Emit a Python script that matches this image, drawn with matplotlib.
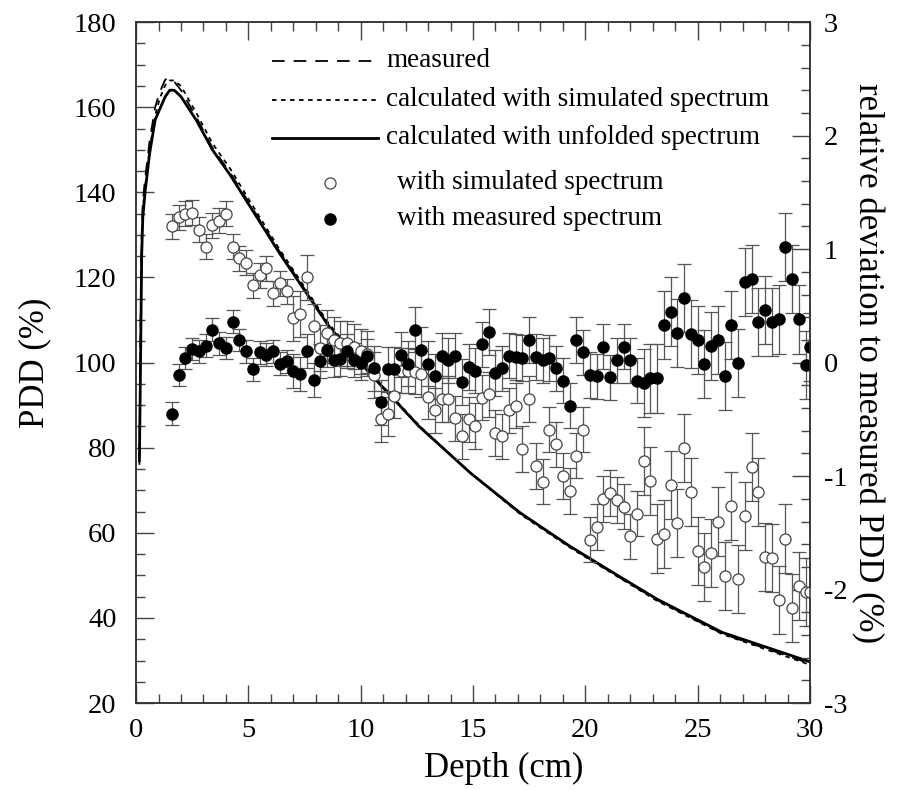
import matplotlib.pyplot as plt
from matplotlib.ticker import MultipleLocator

plt.rcParams['font.family'] = ['Liberation Serif', 'DejaVu Serif']
plt.rcParams['axes.unicode_minus'] = False

# PDD curves (left axis)
depth_curve = [0.15, 0.2, 0.25, 0.3, 0.4, 0.6, 0.85, 1.05, 1.3, 1.5, 1.7, 2.0, 2.7, 3.4,
               4.2, 5.0, 6.4, 8.6, 10.4, 12.6, 14.9, 17.1, 19.3, 21.5, 23.2, 26.1, 30.0]
pdd_measured = [78, 108, 130, 138, 143, 152, 160, 163.5, 166.5, 166.8, 166.0, 164, 157.5, 150.5,
                144.5, 137.8, 126, 108.6, 97.6, 85, 74, 64.6, 56.8, 49.6, 44.2, 36.3, 29.3]
pdd_calc_sim = [76, 104, 128, 136, 141, 150, 158, 162, 165.2, 166.3, 166.3, 165, 158.5, 151.5,
                145.5, 138.5, 126.5, 109, 97.8, 85.2, 74, 64.4, 56.6, 49.5, 44.0, 36.2, 29.0]
pdd_calc_unf = [77, 100, 125, 134, 140, 149, 157, 159.5, 162.5, 164, 164, 162.5, 156.8, 150,
                144, 137.3, 125.6, 108.4, 97.5, 85, 74, 64.7, 56.9, 49.8, 44.4, 36.6, 29.7]

# relative deviation points (right axis)
depth_pts = [1.6, 1.9, 2.2, 2.5, 2.8, 3.1, 3.4, 3.7, 4.0, 4.3,
             4.6, 4.9, 5.2, 5.5, 5.8, 6.1, 6.4, 6.7, 7.0, 7.3,
             7.6, 7.9, 8.2, 8.5, 8.8, 9.1, 9.4, 9.7, 10.0, 10.3,
             10.6, 10.9, 11.2, 11.5, 11.8, 12.1, 12.4, 12.7, 13.0, 13.3,
             13.6, 13.9, 14.2, 14.5, 14.8, 15.1, 15.4, 15.7, 16.0, 16.3,
             16.6, 16.9, 17.2, 17.5, 17.8, 18.1, 18.4, 18.7, 19.0, 19.3,
             19.6, 19.9, 20.2, 20.5, 20.8, 21.1, 21.4, 21.7, 22.0, 22.3,
             22.6, 22.9, 23.2, 23.5, 23.8, 24.1, 24.4, 24.7, 25.0, 25.3,
             25.6, 25.9, 26.2, 26.5, 26.8, 27.1, 27.4, 27.7, 28.0, 28.3,
             28.6, 28.9, 29.2, 29.5, 29.8, 30.0]
dev_measured = [-0.45, -0.11, 0.04, 0.12, 0.10, 0.15, 0.29, 0.17, 0.13, 0.36,
                0.20, 0.10, -0.06, 0.09, 0.07, 0.10, -0.01, 0.01, -0.07, -0.10,
                0.10, -0.15, 0.01, 0.11, 0.02, 0.03, 0.10, 0.02, 0.00, 0.06,
                -0.05, -0.35, -0.06, -0.06, 0.07, -0.01, 0.29, 0.11, -0.01, -0.12,
                0.06, 0.02, 0.06, -0.17, -0.04, -0.07, 0.16, 0.27, -0.09, -0.05,
                0.06, 0.05, 0.04, 0.20, 0.05, 0.02, 0.04, -0.05, -0.16, -0.38,
                0.20, 0.09, -0.11, -0.12, 0.14, -0.13, 0.02, 0.14, 0.02, -0.16,
                -0.18, -0.14, -0.14, 0.33, 0.45, 0.26, 0.57, 0.25, 0.20, -0.01,
                0.15, 0.20, -0.12, 0.33, 0.00, 0.71, 0.74, 0.36, 0.46, 0.36,
                0.38, 1.02, 0.74, 0.38, -0.02, 0.14]
dev_simulated = [1.20, 1.28, 1.31, 1.32, 1.17, 1.02, 1.21, 1.25, 1.31, 1.02,
                 0.92, 0.88, 0.68, 0.77, 0.83, 0.61, 0.70, 0.63, 0.39, 0.43,
                 0.75, 0.32, 0.13, 0.26, 0.20, 0.17, 0.17, 0.14, 0.10, 0.08,
                 -0.11, -0.50, -0.45, -0.29, -0.07, -0.07, -0.08, -0.10, -0.30, -0.42,
                 -0.32, -0.32, -0.49, -0.65, -0.50, -0.56, -0.31, -0.28, -0.62, -0.65,
                 -0.42, -0.38, -0.76, -0.32, -0.91, -1.05, -0.59, -0.72, -1.00, -1.13,
                 -0.82, -0.59, -1.56, -1.45, -1.20, -1.15, -1.21, -1.27, -1.53, -1.33,
                 -0.87, -1.04, -1.55, -1.51, -1.08, -1.41, -0.75, -1.14, -1.66, -1.80,
                 -1.68, -1.40, -1.88, -1.26, -1.91, -1.35, -0.92, -1.14, -1.71, -1.72,
                 -2.09, -1.55, -2.16, -1.97, -2.02, -2.02]
err_measured = [0.10] * 18 + [0.15] * 12 + [0.20] * 40 + [0.30] * 26
err_simulated = [0.11] * 18 + [0.20] * 52 + [0.30] * 26

fig = plt.figure(figsize=(9.01, 7.90), dpi=100)
ax = fig.add_axes([0.151, 0.110, 0.748, 0.862])
ax2 = ax.twinx()

# curves
ax.plot(depth_curve, pdd_measured, color='black', lw=1.3, dashes=(7, 5))
ax.plot(depth_curve, pdd_calc_sim, color='black', lw=1.3, dashes=(2.5, 2.5))
ax.plot(depth_curve, pdd_calc_unf, color='black', lw=2.0)

# deviation points
ax2.errorbar(depth_pts, dev_simulated, yerr=err_simulated, fmt='o', ms=8,
             mfc='white', mec='#444444', mew=0.9, ecolor='#555555', elinewidth=0.9,
             capsize=5, capthick=0.9)
ax2.errorbar(depth_pts, dev_measured, yerr=err_measured, fmt='o', ms=8,
             mfc='black', mec='black', ecolor='#555555', elinewidth=0.9,
             capsize=5, capthick=0.9)

ax.set_xlim(0, 30)
ax.set_ylim(20, 180)
ax2.set_ylim(-3, 3)

ax.xaxis.set_major_locator(MultipleLocator(5))
ax.xaxis.set_minor_locator(MultipleLocator(1))
ax.yaxis.set_major_locator(MultipleLocator(20))
ax.yaxis.set_minor_locator(MultipleLocator(5))
ax2.yaxis.set_major_locator(MultipleLocator(1))
ax2.yaxis.set_minor_locator(MultipleLocator(0.2))

tick_col = '#444444'
ax.tick_params(axis='x', which='both', direction='in', top=True, colors=tick_col,
               labelcolor='black', labelsize=20.5, pad=11)
ax.tick_params(axis='y', which='both', direction='in', right=False, colors=tick_col,
               labelcolor='black', labelsize=20.5, pad=14)
ax2.tick_params(axis='y', which='both', direction='in', left=False, colors=tick_col,
                labelcolor='black', labelsize=20.5, pad=10)
for a in (ax, ax2):
    a.tick_params(which='major', length=13, width=1.0)
    a.tick_params(which='minor', length=6.5, width=1.0)
for a in (ax, ax2):
    for s in a.spines.values():
        s.set_color('#333333')
        s.set_linewidth(1.1)

ax.set_xlabel('Depth (cm)', fontsize=25)
ax.xaxis.set_label_coords(0.545, -0.072)
ax.set_ylabel('PDD (%)', fontsize=25, labelpad=16)
ax2.set_ylabel('relative deviation to measured PDD (%)', fontsize=25,
               rotation=270, labelpad=26)

# legend drawn by hand
lx0, lx1, tx = 0.202, 0.359, 0.371
ax.plot([lx0, lx1], [0.943, 0.943], transform=ax.transAxes, color='black', lw=1.3, dashes=(7, 5))
ax.plot([lx0, lx1], [0.886, 0.886], transform=ax.transAxes, color='black', lw=1.3, dashes=(2.5, 2.5))
ax.plot([lx0, lx1], [0.830, 0.830], transform=ax.transAxes, color='black', lw=2.0)
ax.text(tx, 0.943, 'measured', transform=ax.transAxes, fontsize=19.5, va='center')
ax.text(tx, 0.886, 'calculated with simulated spectrum', transform=ax.transAxes, fontsize=19.5, va='center')
ax.text(tx, 0.830, 'calculated with unfolded spectrum', transform=ax.transAxes, fontsize=19.5, va='center')
ax.plot([0.288], [0.764], transform=ax.transAxes, marker='o', ms=8, mfc='white', mec='#444444', mew=0.9)
ax.plot([0.288], [0.711], transform=ax.transAxes, marker='o', ms=8, mfc='black', mec='black')
ax.text(0.387, 0.764, 'with simulated spectrum', transform=ax.transAxes, fontsize=19.5, va='center')
ax.text(0.387, 0.711, 'with measured spectrum', transform=ax.transAxes, fontsize=19.5, va='center')

fig.savefig('out.png', dpi=100)
